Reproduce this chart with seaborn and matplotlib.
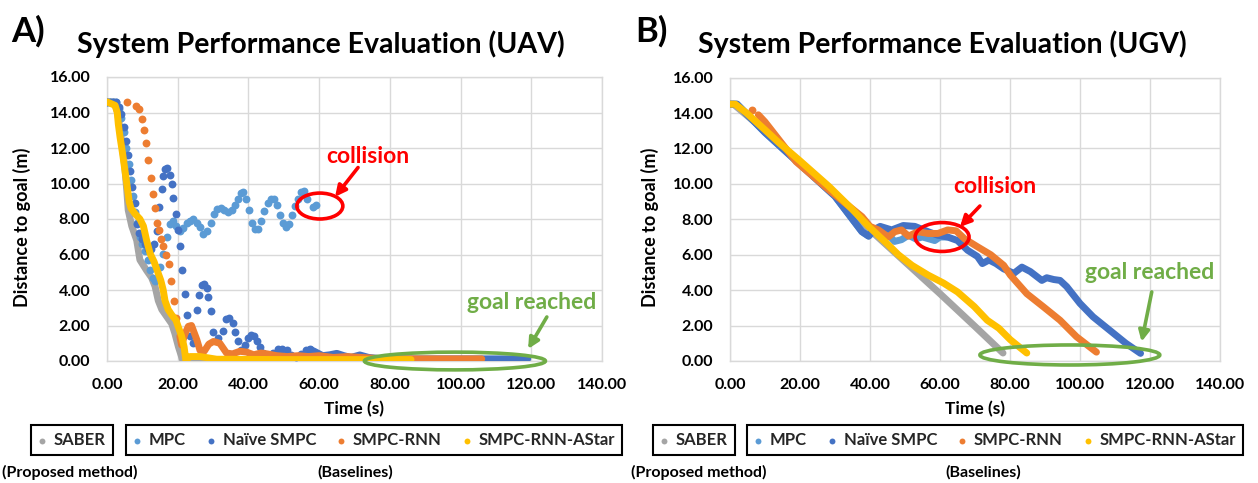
import numpy as np
import pandas as pd
import seaborn as sns
import matplotlib
matplotlib.use("Agg")
import matplotlib.pyplot as plt
from matplotlib.patches import Ellipse

# ---------------- data ----------------
series_names = ["SABER", "MPC", "Naïve SMPC", "SMPC-RNN", "SMPC-RNN-AStar"]
series_colors = ["#A5A5A5", "#5B9BD5", "#4472C4", "#ED7D31", "#FFC000"]

x_ticks = [0, 20, 40, 60, 80, 100, 120, 140]
y_ticks = [0, 2, 4, 6, 8, 10, 12, 14, 16]

# ---- UAV (panel A) ----
uav_saber_t = [0, 2, 3, 4, 5, 5.6, 6.0, 7.0, 8.4, 9.3, 11.2, 12.6, 13.6, 14.5, 15.5, 16.9, 18.3, 19.2, 20.2, 21.4, 23, 30, 60, 80]
uav_saber_d = [14.6, 14.6, 14.0, 12.6, 11.0, 9.6, 8.5, 7.6, 6.8, 5.7, 5.1, 4.7, 4.2, 3.4, 2.9, 2.5, 2.1, 1.55, 0.8, 0.05, 0.05, 0.05, 0.05, 0.05]

uav_mpc_t = [0.0, 0.8, 1.6, 2.5, 3.3, 4.0, 4.8, 5.5, 6.1, 6.7, 7.3, 8.0, 8.6, 9.3, 10.0, 10.8, 11.7, 12.2, 13.1, 13.6, 14.3, 15.0, 15.9,
             16.9, 17.8, 18.7, 19.6, 20.6, 21.5, 22.5, 23.5, 24.4, 25.4, 26.3, 27.2, 28.2, 29.3, 30.3, 31.2, 32.2, 33.2, 34.3,
             35.3, 36.2, 37.0, 37.8, 38.6, 39.4, 40.2, 41.0, 41.8, 42.7, 43.6, 44.5, 45.4, 46.3, 47.2, 48.0, 48.9, 49.7, 50.6,
             51.4, 52.3, 53.2, 54.1, 55.0, 55.8, 56.7, 58.4, 59.2]
uav_mpc_d = [14.6, 14.6, 14.6, 14.6, 14.2, 13.7, 12.9, 12.0, 11.1, 10.2, 9.3, 8.4, 7.8, 7.0, 6.6, 6.2, 5.7, 5.1, 4.65, 4.5, 4.7, 5.3, 6.05,
             7.0, 7.7, 7.9, 7.6, 7.35, 7.5, 7.75, 7.9, 8.0, 7.8, 7.55, 7.15, 7.3, 7.8, 8.3, 8.55, 8.6, 8.5, 8.4,
             8.5, 8.8, 9.15, 9.45, 9.5, 9.1, 8.5, 7.8, 7.45, 7.45, 7.9, 8.45, 8.9, 9.1, 9.1, 8.8, 8.2, 7.75, 7.55,
             7.7, 8.2, 8.75, 9.1, 9.5, 9.6, 9.1, 8.7, 8.8]

uav_naive_t = [0.0, 0.8, 1.6, 2.5, 3.3, 3.9, 4.8, 5.4, 6.0, 6.5, 7.1, 7.9, 8.4, 9.1, 10.0, 10.8, 11.6, 12.5, 13.3, 14.0, 14.8, 15.5,
               15.9, 16.4, 17.1, 17.8, 18.3, 18.8, 19.4, 20.0, 20.6, 21.3, 22.1, 22.7, 23.5, 24.3, 25.4, 26.1, 26.8, 27.4, 28.2,
               28.7, 29.3, 30.1, 31.4, 32.7, 33.7, 34.6, 35.5, 36.2, 37.0, 38.0, 39.0, 40.0, 40.8, 41.6, 42.4, 43.3, 44.2, 45.5,
               47.0, 48.3, 49.5, 50.8, 52.0, 53.5, 55.0, 56.3, 57.5]
uav_naive_d = [14.6, 14.6, 14.6, 14.6, 14.3, 13.9, 13.2, 12.4, 11.6, 10.7, 9.8, 8.9, 7.7, 7.2, 6.9, 6.6, 6.3, 6.3, 6.6, 7.3, 8.7, 9.7,
               10.4, 10.8, 10.9, 10.5, 10.0, 9.2, 8.3, 7.4, 6.5, 5.1, 3.8, 2.6, 1.4, 1.0, 2.9, 3.7, 4.3, 4.35, 4.1,
               3.6, 2.8, 1.65, 1.3, 1.7, 2.35, 2.4, 2.15, 1.65, 1.1, 0.6, 0.9, 1.3, 1.45, 1.4, 1.15, 0.8, 0.45, 0.3,
               0.45, 0.65, 0.7, 0.6, 0.35, 0.25, 0.4, 0.6, 0.65]
uav_naive_tail_t = [57.5, 58.6, 61, 63, 65, 67, 69, 71.5, 74, 78, 119]
uav_naive_tail_d = [0.65, 0.55, 0.3, 0.35, 0.43, 0.3, 0.2, 0.34, 0.2, 0.12, 0.12]

uav_rnn_t = [5.7, 8.3, 9.1, 10.0, 10.5, 11.1, 11.7, 12.4, 12.9, 13.5, 14.1, 14.8, 15.4, 15.9, 16.6, 17.5, 18.0, 18.9, 19.6]
uav_rnn_d = [14.6, 14.35, 14.2, 13.65, 13.0, 12.3, 11.3, 10.3, 9.4, 8.6, 7.8, 7.4, 6.9, 6.5, 6.0, 5.45, 4.5, 3.4, 2.4]
uav_rnn_tail_t = [20.6, 21.1, 22.0, 23.0, 23.9, 25.4, 26.3, 27.5, 28.8, 30.1, 31.9, 33.8, 35.5, 37.6, 39.5, 41.5, 43.5, 45.3,
                  48, 51, 54, 57, 60, 64, 68, 72, 76, 80, 106]
uav_rnn_tail_d = [1.4, 0.9, 1.5, 1.95, 2.0, 1.2, 0.6, 0.55, 0.95, 1.1, 1.0, 0.45, 0.4, 0.55, 0.5, 0.35, 0.45, 0.4,
                  0.3, 0.25, 0.3, 0.25, 0.3, 0.2, 0.25, 0.2, 0.15, 0.12, 0.12]

uav_astar_t = [0, 2.3, 2.9, 3.2, 3.7, 4.4, 5.1, 5.8, 6.3, 6.8, 7.9, 9.3, 10.3, 11.2, 12.2, 13.3, 14.2, 15.2, 15.9, 16.4, 17.3,
               18.3, 19.5, 20.2, 21.1, 21.8, 22.3, 23.5, 26.3, 31, 50, 86]
uav_astar_d = [14.6, 14.4, 14.0, 13.35, 12.6, 11.7, 10.7, 9.7, 8.95, 8.6, 8.3, 8.0, 7.6, 6.8, 6.05, 5.6, 5.1, 4.55, 4.0, 3.4, 2.9,
               2.6, 2.3, 1.9, 1.4, 0.8, 0.05, 0.25, 0.25, 0.1, 0.08, 0.08]

# ---- UGV (panel B) ----
ugv_saber_t = [0, 1, 10, 20, 30, 40, 50, 60, 70, 78]
ugv_saber_d = [14.5, 14.5, 13.0, 11.2, 9.35, 7.4, 5.6, 3.8, 1.95, 0.45]

ugv_mpc_t = [0, 2, 10, 20, 30, 35, 37.7, 39.6, 41, 42.9, 45, 47, 49, 51, 53, 55, 58.5, 60, 62]
ugv_mpc_d = [14.5, 14.5, 12.9, 11.1, 9.3, 8.0, 7.3, 7.05, 7.3, 7.5, 7.2, 6.75, 6.85, 7.1, 6.9, 7.0, 6.8, 7.0, 7.0]

ugv_naive_t = [0, 2, 10, 20, 30, 35, 37.7, 39.6, 41, 42.9, 46.2, 49.5, 52.8, 56.6, 59.4, 62.2, 65, 67.9, 70.7, 72.1, 74, 76,
               78.2, 81.1, 83.4, 85.8, 89.1, 90.5, 92.5, 94.3, 96.2, 100, 103.7, 108.4, 113.1, 117.3]
ugv_naive_d = [14.5, 14.5, 12.9, 11.1, 9.3, 8.0, 7.3, 7.05, 7.4, 7.6, 7.4, 7.65, 7.6, 7.3, 7.1, 7.0, 6.8, 6.25, 5.9, 5.5, 5.7, 5.5,
               5.2, 4.95, 5.3, 5.05, 4.55, 4.7, 4.6, 4.55, 4.2, 3.25, 2.5, 1.75, 1.0, 0.43]

ugv_rnn_dot_t = [6.2]
ugv_rnn_dot_d = [14.15]
ugv_rnn_t = [8.1, 10, 18.9, 28.3, 37.7, 40, 42.4, 45.2, 47.1, 49, 51, 53.7, 56.6, 59.4, 62.2, 64.6, 67, 70.7, 74.5, 78.2, 80.1,
             84.8, 89.6, 94.3, 99, 104.7]
ugv_rnn_d = [13.9, 13.5, 11.25, 9.65, 8.15, 7.6, 7.4, 7.0, 7.3, 7.4, 7.05, 7.3, 7.2, 7.2, 7.4, 7.35, 6.9, 6.45, 6.0, 5.4, 4.85,
             3.8, 3.05, 2.3, 1.37, 0.5]

ugv_astar_t = [0, 1.5, 4.7, 10, 14.1, 20, 28.3, 35, 39.6, 45, 48.1, 52, 56.6, 61, 65, 69.8, 73.5, 76.8, 80.1, 84.8]
ugv_astar_d = [14.5, 14.5, 14.0, 13.05, 12.3, 11.3, 9.85, 8.55, 7.6, 6.6, 6.0, 5.4, 4.85, 4.4, 3.9, 3.07, 2.3, 1.85, 1.2, 0.45]

# ---------------- style ----------------
sns.set_theme(style="white")
plt.rcParams["font.family"] = ["Lato", "DejaVu Sans"]
plt.rcParams["font.weight"] = "bold"

GRID = "#D9D9D9"
DOT_S = 32
LW = 5.0

fig = plt.figure(figsize=(12.58, 4.83), dpi=100)
W, H = 1258.0, 483.0
axA = fig.add_axes([107 / W, (H - 361) / H, 495 / W, 284 / H])
axB = fig.add_axes([730 / W, (H - 361) / H, 490 / W, 283.4 / H])

c_saber, c_mpc, c_naive, c_rnn, c_astar = series_colors


def line(ax, t, d, color, z):
    df = pd.DataFrame({"t": t, "d": d})
    sns.lineplot(data=df, x="t", y="d", color=color, linewidth=LW, sort=False, estimator=None,
                 ax=ax, zorder=z, solid_capstyle="round", solid_joinstyle="round")


def dots(ax, t, d, color, z):
    df = pd.DataFrame({"t": t, "d": d})
    sns.scatterplot(data=df, x="t", y="d", color=color, s=DOT_S, linewidth=0, ax=ax, zorder=z)


# Panel A
line(axA, uav_saber_t, uav_saber_d, c_saber, 3)
dots(axA, uav_mpc_t, uav_mpc_d, c_mpc, 4)
dots(axA, uav_naive_t, uav_naive_d, c_naive, 5)
line(axA, uav_naive_tail_t, uav_naive_tail_d, c_naive, 5)
dots(axA, uav_rnn_t, uav_rnn_d, c_rnn, 6)
line(axA, uav_rnn_tail_t, uav_rnn_tail_d, c_rnn, 6)
line(axA, uav_astar_t, uav_astar_d, c_astar, 7)

# Panel B
line(axB, ugv_saber_t, ugv_saber_d, c_saber, 3)
line(axB, ugv_mpc_t, ugv_mpc_d, c_mpc, 4)
line(axB, ugv_naive_t, ugv_naive_d, c_naive, 5)
dots(axB, ugv_rnn_dot_t, ugv_rnn_dot_d, c_rnn, 6)
line(axB, ugv_rnn_t, ugv_rnn_d, c_rnn, 6)
line(axB, ugv_astar_t, ugv_astar_d, c_astar, 7)

for ax in (axA, axB):
    ax.set_xlim(0, 140)
    ax.set_ylim(0, 16)
    ax.set_xticks(x_ticks)
    ax.set_yticks(y_ticks)
    ax.set_xticklabels([f"{v:.2f}" for v in x_ticks], fontsize=11.5, fontweight="bold")
    ax.set_yticklabels([f"{v:.2f}" for v in y_ticks], fontsize=11.5, fontweight="bold")
    ax.tick_params(axis="y", length=0, pad=12, colors="black")
    ax.tick_params(axis="x", length=0, pad=12, colors="black")
    ax.grid(True, color=GRID, linewidth=1.0, zorder=0)
    ax.set_axisbelow(True)
    for sp in ax.spines.values():
        sp.set_color(GRID)
        sp.set_linewidth(1.0)
    ax.set_xlabel("Time (s)", fontsize=12.5, fontweight="bold", color="black")
    ax.set_ylabel("Distance to goal (m)", fontsize=13, fontweight="bold", color="black")
    ax.set_facecolor("white")

axA.xaxis.set_label_coords(0.5, -0.141)
axB.xaxis.set_label_coords(0.5, -0.141)
axA.yaxis.set_label_coords(-0.154, 0.47)
axB.yaxis.set_label_coords(-0.145, 0.47)

# titles and panel letters
fig.text(321 / W, 1 - 44 / H, "System Performance Evaluation (UAV)", ha="center", va="center",
         fontsize=20.5, fontweight="bold", color="black")
fig.text(942 / W, 1 - 44 / H, "System Performance Evaluation (UGV)", ha="center", va="center",
         fontsize=20.5, fontweight="bold", color="black")
fig.text(11 / W, 1 - 31 / H, "A)", ha="left", va="center", fontsize=25, fontweight="bold", color="black")
fig.text(635 / W, 1 - 31 / H, "B)", ha="left", va="center", fontsize=25, fontweight="bold", color="black")

RED = "#FF0000"
GREEN = "#70AD47"


def annotate(ax, txt, txt_xy, color, ell_c, ell_w, ell_h, tail, head):
    ax.text(txt_xy[0], txt_xy[1], txt, color=color, fontsize=16.5, fontweight="bold",
            ha="center", va="center", zorder=10, clip_on=False)
    ax.add_patch(Ellipse(ell_c, ell_w, ell_h, fill=False, edgecolor=color, linewidth=2.6,
                         zorder=9, clip_on=False))
    ax.annotate("", xy=head, xytext=tail,
                arrowprops=dict(arrowstyle="-|>", color=color, lw=2.6, mutation_scale=16,
                                shrinkA=0, shrinkB=0), zorder=10, annotation_clip=False)


annotate(axA, "collision", (73.8, 11.5), RED, (60.2, 8.73), 13.0, 1.46, (71.0, 10.9), (64.5, 9.25))
annotate(axA, "goal reached", (120.2, 3.3), GREEN, (98.4, 0.0), 51.2, 1.0, (124.4, 2.48), (119.1, 0.68))
annotate(axB, "collision", (75.7, 9.85), RED, (60.6, 7.0), 15.4, 1.63, (71.4, 8.75), (65.7, 7.57))
annotate(axB, "goal reached", (120.0, 5.0), GREEN, (97.1, 0.34), 51.4, 1.13, (120.5, 3.9), (117.6, 1.09))

# legend handles: empty scatter collections (small round dots only), fresh set per legend
handle_ax = fig.add_axes([0, 0, 0.001, 0.001])
handle_ax.set_axis_off()


def make_legend(names, cx, ncol):
    hs = [handle_ax.scatter([], [], s=18, color=series_colors[series_names.index(n)],
                            linewidths=0, marker="o") for n in names]
    leg = fig.legend(handles=hs, labels=names, loc="center",
                     bbox_to_anchor=(cx / W, 1 - 440 / H), ncol=ncol, frameon=True, fancybox=False,
                     edgecolor="black", framealpha=1, borderpad=0.4, handlelength=0.5,
                     handletextpad=0.45, columnspacing=1.25, borderaxespad=0, scatterpoints=1,
                     prop={"size": 12, "weight": "bold"})
    leg.get_frame().set_linewidth(1.5)
    return leg


make_legend(series_names[:1], 72, 1)
make_legend(series_names[1:], 374, 4)
make_legend(series_names[:1], 694, 1)
make_legend(series_names[1:], 995, 4)

for cx_pm, cx_b in ((70, 355), (699, 983)):
    fig.text(cx_pm / W, 1 - 472 / H, "(Proposed method)", ha="center", va="center", fontsize=11.5,
             fontweight="bold", color="black")
    fig.text(cx_b / W, 1 - 472 / H, "(Baselines)", ha="center", va="center", fontsize=11.5,
             fontweight="bold", color="black")

fig.savefig("out.png", dpi=100, facecolor="white")
